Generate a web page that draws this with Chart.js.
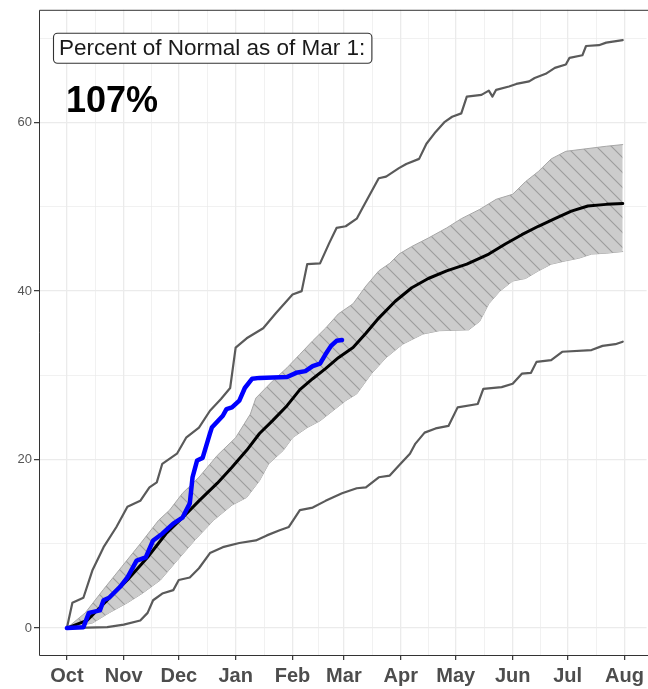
<!DOCTYPE html>
<html>
<head>
<meta charset="utf-8">
<script src="https://cdn.jsdelivr.net/npm/chart.js@4.4.1/dist/chart.umd.min.js"></script>
<style>
  body { margin: 0; background: #fff; }
  canvas { display: block; }
</style>
</head>
<body>
<canvas id="snowChart" width="648" height="689"></canvas>
<script>
// days since Oct 1, value
const monthLabels = ["Oct", "Nov", "Dec", "Jan", "Feb", "Mar", "Apr", "May", "Jun", "Jul", "Aug"];
const monthDays = [0, 31, 61, 92, 123, 151, 182, 212, 243, 273, 304];
const minorDays = [15.5, 46, 76.5, 107.5, 137, 166.5, 197, 227.5, 258, 288.5];
const yTicks = [0, 20, 40, 60];
const yMinorTicks = [10, 30, 50, 70];

const noteText = "Percent of Normal as of Mar 1:";
const pctText = "107%";

const maxLine = [[0,0],[3,3.0],[9,3.6],[14,6.9],[20,9.6],[27,12.0],[33,14.4],[40,15.1],[45,16.7],[49,17.3],[52,19.5],[60,20.7],[65,22.6],[72,23.8],[78,25.8],[84,27.2],[89,28.5],[92,33.3],[98,34.4],[107,35.6],[114,37.4],[123,39.6],[128,40.0],[131,43.2],[138,43.3],[143,45.7],[147,47.5],[152,47.7],[158,48.6],[161,49.8],[170,53.4],[174,53.6],[181,54.6],[185,55.1],[192,55.7],[196,57.5],[201,58.9],[206,60.1],[210,60.7],[215,61.1],[218,63.1],[226,63.3],[230,63.8],[232,63.1],[234,63.9],[241,64.3],[245,64.6],[252,64.9],[255,65.3],[261,65.8],[266,66.5],[272,66.9],[274,67.7],[281,68.0],[283,69.1],[290,69.2],[294,69.5],[303,69.8]];

const minLine = [[0,0],[22,0.1],[31,0.4],[40,0.9],[44,1.8],[47,3.3],[52,4.1],[58,4.5],[61,5.7],[67,6.0],[72,7.1],[78,8.9],[85,9.6],[94,10.1],[103,10.4],[109,11.0],[116,11.6],[121,12.0],[127,14.0],[134,14.3],[141,15.1],[150,16.0],[158,16.6],[163,16.7],[170,17.9],[176,18.1],[181,19.3],[187,20.7],[190,21.9],[195,23.2],[201,23.7],[208,24.0],[213,26.2],[224,26.6],[227,28.4],[237,28.6],[243,29.0],[248,30.2],[253,30.3],[256,31.6],[264,31.8],[270,32.8],[286,33.0],[292,33.5],[299,33.7],[303,34.0]];

const medianLine = [[0,0],[11,0.9],[22,3.3],[33,5.7],[44,8.4],[54,11.2],[63,13.1],[72,15.1],[82,17.2],[90,19.1],[98,21.1],[105,23.1],[112,24.6],[120,26.4],[127,28.3],[134,29.6],[141,30.8],[148,32.1],[156,33.3],[163,35.0],[170,36.8],[179,38.8],[188,40.4],[197,41.5],[207,42.4],[218,43.2],[230,44.4],[239,45.6],[248,46.7],[257,47.7],[266,48.6],[275,49.5],[284,50.1],[294,50.3],[303,50.4]];

const bandUpper = [[0,0],[10,1.8],[20,4.6],[30,7.3],[40,10.0],[50,12.8],[56,14.0],[63,16.0],[72,17.9],[82,20.5],[92,22.6],[100,25.4],[103,27.3],[112,29.3],[120,30.9],[127,32.5],[134,34.1],[141,35.6],[148,37.3],[156,38.5],[163,40.6],[170,42.4],[176,43.3],[181,44.4],[188,45.3],[197,46.3],[207,47.5],[215,48.6],[225,49.7],[234,50.9],[243,51.5],[250,53.0],[257,54.2],[264,55.7],[272,56.6],[283,56.9],[294,57.2],[303,57.4]];

const bandLower = [[0,0],[14,0.6],[23,1.8],[33,3.0],[41,4.1],[51,5.7],[60,8.0],[70,10.5],[80,12.8],[90,14.6],[98,15.5],[105,17.5],[110,19.5],[118,21.1],[123,22.6],[131,23.8],[138,24.6],[145,25.8],[152,27.0],[158,27.8],[166,30.2],[174,32.1],[183,33.7],[194,34.9],[203,35.3],[219,35.4],[225,36.4],[230,38.5],[236,40.0],[243,41.2],[250,41.5],[257,42.4],[264,43.2],[272,43.6],[279,43.9],[286,44.4],[294,44.5],[303,44.7]];

const currentYear = [[0,0],[9,0.1],[12,1.8],[18,2.1],[20,3.3],[23,3.6],[29,4.9],[33,6.0],[38,8.0],[43,8.4],[47,10.4],[52,11.2],[58,12.4],[63,13.1],[67,14.8],[68.5,17.9],[71,19.9],[74,20.2],[78,23.1],[79,23.8],[85,25.2],[87,26.0],[90,26.2],[94,27.0],[97,28.5],[101,29.6],[105,29.7],[120,29.8],[125,30.3],[130,30.5],[134,31.1],[138,31.4],[141,32.5],[144,33.5],[147,34.1],[150,34.2]];

const FONT = '"Liberation Sans", Arial, Helvetica, sans-serif';
const toXY = arr => arr.map(([x, y]) => ({ x, y }));

// hatched fill for the normal range band
function makeHatch() {
  const s = 15;
  const c = document.createElement("canvas");
  c.width = s; c.height = s;
  const g = c.getContext("2d");
  g.fillStyle = "#cccccc";
  g.fillRect(0, 0, s, s);
  g.strokeStyle = "#9c9c9c";
  g.lineWidth = 1.1;
  g.beginPath();
  g.moveTo(-2, -2); g.lineTo(s + 2, s + 2);
  g.moveTo(-2, s - 2); g.lineTo(2, s + 2);
  g.moveTo(s - 2, -2); g.lineTo(s + 2, 2);
  g.stroke();
  return g.createPattern(c, "repeat");
}

const panelPlugin = {
  id: "panel",
  afterDraw(chart) {
    const { ctx, chartArea: a } = chart;
    ctx.save();
    // panel border (right edge falls outside the picture)
    ctx.strokeStyle = "#333333";
    ctx.lineWidth = 1;
    ctx.beginPath();
    ctx.moveTo(a.right + 2, a.top + 0.5);
    ctx.lineTo(a.left + 0.5, a.top + 0.5);
    ctx.lineTo(a.left + 0.5, a.bottom + 0.5);
    ctx.lineTo(a.right + 2, a.bottom + 0.5);
    ctx.stroke();

    // label box
    ctx.font = "22.5px " + FONT;
    const tw = ctx.measureText(noteText).width;
    const bx = a.left + 14, by = a.top + 23, bw = tw + 12, bh = 30;
    ctx.beginPath();
    ctx.roundRect(bx + 0.5, by + 0.5, bw, bh, 4);
    ctx.fillStyle = "#ffffff";
    ctx.fill();
    ctx.strokeStyle = "#333333";
    ctx.lineWidth = 1.1;
    ctx.stroke();
    ctx.fillStyle = "#1a1a1a";
    ctx.textBaseline = "middle";
    ctx.fillText(noteText, bx + 6, by + bh / 2 + 1);

    ctx.font = "bold 36px " + FONT;
    ctx.fillStyle = "#000000";
    ctx.textBaseline = "alphabetic";
    ctx.fillText(pctText, a.left + 27, a.top + 102);
    ctx.restore();
  }
};

const isMajorX = v => monthDays.includes(v);
const isMajorY = v => yTicks.includes(v);

new Chart(document.getElementById("snowChart"), {
  type: "line",
  data: {
    datasets: [
      {
        data: toXY(currentYear),
        borderColor: "#0000ff",
        borderWidth: 4.5,
        order: 0
      },
      {
        data: toXY(medianLine),
        borderColor: "#000000",
        borderWidth: 3,
        order: 1
      },
      {
        data: toXY(maxLine),
        borderColor: "#5a5a5a",
        borderWidth: 2.2,
        order: 2
      },
      {
        data: toXY(minLine),
        borderColor: "#5a5a5a",
        borderWidth: 2.2,
        order: 2
      },
      {
        data: toXY(bandUpper),
        borderColor: "#a6a6a6",
        borderWidth: 1,
        backgroundColor: makeHatch(),
        fill: "+1",
        order: 3
      },
      {
        data: toXY(bandLower),
        borderColor: "#a6a6a6",
        borderWidth: 1,
        fill: false,
        order: 3
      }
    ]
  },
  options: {
    responsive: false,
    animation: false,
    devicePixelRatio: 1,
    layout: { padding: { top: 8, right: 0, left: 0, bottom: 0 } },
    elements: {
      point: { radius: 0 },
      line: { tension: 0, borderJoinStyle: "round", borderCapStyle: "round" }
    },
    plugins: {
      legend: { display: false },
      tooltip: { enabled: false }
    },
    scales: {
      x: {
        type: "linear",
        min: -15.2,
        max: 316,
        afterBuildTicks: scale => {
          scale.ticks = [...monthDays, ...minorDays].sort((a, b) => a - b).map(v => ({ value: v }));
        },
        afterFit: scale => { scale.height = 34; },
        border: { display: false },
        grid: {
          color: "#ebebeb",
          lineWidth: ctx => (ctx.tick && isMajorX(ctx.tick.value) ? 1.3 : 0.7),
          tickColor: ctx => (ctx.tick && isMajorX(ctx.tick.value) ? "#333333" : "rgba(0,0,0,0)"),
          tickLength: 5,
          tickWidth: 1.2
        },
        ticks: {
          autoSkip: false,
          maxRotation: 0,
          padding: 4,
          color: "#4d4d4d",
          font: { family: FONT, size: 20, weight: "bold" },
          callback: v => {
            const i = monthDays.indexOf(v);
            return i >= 0 ? monthLabels[i] : "";
          }
        }
      },
      y: {
        min: -3.2,
        max: 73.4,
        afterBuildTicks: scale => {
          scale.ticks = [...yTicks, ...yMinorTicks].sort((a, b) => a - b).map(v => ({ value: v }));
        },
        afterFit: scale => { scale.width = 39; },
        border: { display: false },
        grid: {
          color: "#ebebeb",
          lineWidth: ctx => (ctx.tick && isMajorY(ctx.tick.value) ? 1.3 : 0.7),
          tickColor: ctx => (ctx.tick && isMajorY(ctx.tick.value) ? "#333333" : "rgba(0,0,0,0)"),
          tickLength: 5,
          tickWidth: 1.2
        },
        ticks: {
          autoSkip: false,
          padding: 2,
          color: "#555555",
          font: { family: FONT, size: 13 },
          callback: v => (isMajorY(v) ? String(v) : "")
        }
      }
    }
  },
  plugins: [panelPlugin]
});
</script>
</body>
</html>
